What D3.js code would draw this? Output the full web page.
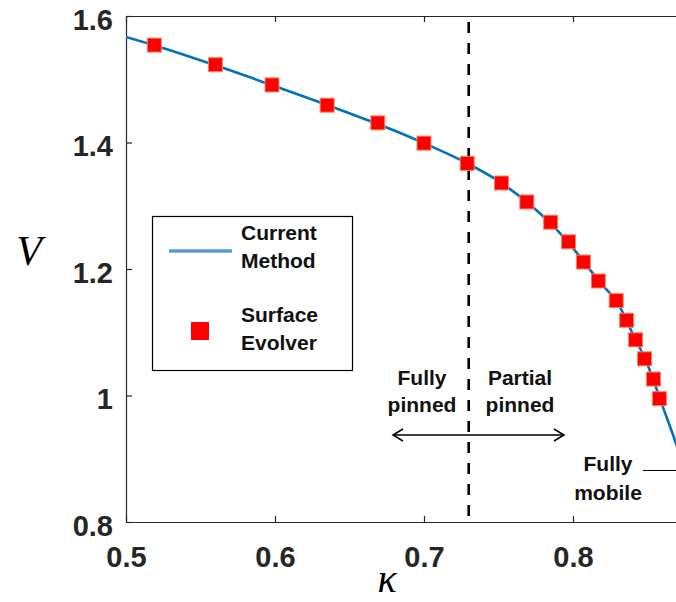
<!DOCTYPE html>
<html>
<head>
<meta charset="utf-8">
<script src="https://cdn.jsdelivr.net/npm/d3@7"></script>
<style>
  body { margin: 0; background: #fff; }
  svg { display: block; overflow: hidden; }
</style>
</head>
<body>
<div id="chart"></div>
<script>
// Current method curve
const kappaCM = [0.50, 0.52, 0.56, 0.60, 0.64, 0.68, 0.70, 0.73, 0.75, 0.77, 0.79, 0.80, 0.81, 0.82, 0.83, 0.84, 0.85, 0.86, 0.87, 0.88];
const vCM = [1.567, 1.553, 1.522, 1.489, 1.455, 1.419, 1.399, 1.366, 1.339, 1.304, 1.260, 1.233, 1.203, 1.174, 1.146, 1.098, 1.049, 0.984, 0.918, 0.84];

// Surface Evolver points
const kappaSE = [0.519, 0.560, 0.598, 0.635, 0.669, 0.700, 0.729, 0.752, 0.769, 0.785, 0.797, 0.807, 0.817, 0.829, 0.836, 0.842, 0.848, 0.854, 0.858];
const vSE = [1.554, 1.523, 1.491, 1.459, 1.431, 1.399, 1.367, 1.336, 1.306, 1.274, 1.243, 1.211, 1.181, 1.150, 1.119, 1.088, 1.058, 1.026, 0.995];

const xTicks = [0.5, 0.6, 0.7, 0.8];
const yTicks = [0.8, 1.0, 1.2, 1.4, 1.6];
const kappaCrit = 0.73;

const width = 676;
const height = 602;
const margin = { top: 16, left: 126, bottom: 80 };
const plotRight = 722; // right edge of the axes box (beyond the visible area)

const x = d3.scaleLinear().domain([0.5, 0.9]).range([margin.left, plotRight]);
const y = d3.scaleLinear().domain([0.8, 1.6]).range([height - margin.bottom, margin.top]);

const svg = d3.select('#chart')
  .append('svg')
  .attr('width', width)
  .attr('height', height);

const axisColor = '#262626';
const tickFont = '"Liberation Sans", Arial, sans-serif';
const noteFont = '"Liberation Sans", Arial, sans-serif';

svg.append('clipPath').attr('id', 'plotClip')
  .append('rect')
  .attr('x', x(0.5)).attr('y', y(1.6))
  .attr('width', x(0.9) - x(0.5)).attr('height', y(0.8) - y(1.6));

// Axes (ticks point inward)
const gx = svg.append('g')
  .attr('transform', `translate(0,${y(0.8)})`)
  .call(d3.axisBottom(x).tickValues(xTicks).tickSizeInner(-6).tickSizeOuter(0).tickPadding(24)
    .tickFormat(d3.format('.1f')));

const gxTop = svg.append('g')
  .attr('transform', `translate(0,${y(1.6)})`)
  .call(d3.axisTop(x).tickValues(xTicks).tickSizeInner(-6).tickSizeOuter(0).tickFormat(''));

const gy = svg.append('g')
  .attr('transform', `translate(${x(0.5)},0)`)
  .call(d3.axisLeft(y).tickValues(yTicks).tickSizeInner(-6).tickSizeOuter(0).tickPadding(13)
    .tickFormat((d) => (d === 1 ? '1' : d3.format('.1f')(d))));

[gx, gxTop, gy].forEach((g) => {
  g.select('.domain').attr('stroke', axisColor).attr('stroke-width', 1.2);
  g.selectAll('.tick line').attr('stroke', axisColor).attr('stroke-width', 1.2);
  g.selectAll('.tick text')
    .attr('fill', axisColor)
    .style('font-family', tickFont)
    .style('font-weight', 'bold')
    .style('font-size', '29px');
});
gy.selectAll('.tick text').attr('dy', '0.46em');

// Axis labels
svg.append('text')
  .attr('x', 387).attr('y', 592)
  .attr('text-anchor', 'middle')
  .style('font-family', '"Liberation Serif", "Times New Roman", serif')
  .style('font-style', 'italic')
  .style('font-size', '40px')
  .text('κ');

svg.append('text')
  .attr('x', 29).attr('y', 265)
  .attr('text-anchor', 'middle')
  .style('font-family', '"Liberation Serif", "Times New Roman", serif')
  .style('font-style', 'italic')
  .style('font-size', '42px')
  .text('V');

// Critical kappa dashed line
svg.append('line')
  .attr('x1', x(kappaCrit)).attr('x2', x(kappaCrit))
  .attr('y1', y(1.6) + 6).attr('y2', y(0.8))
  .attr('stroke', '#000')
  .attr('stroke-width', 2.6)
  .attr('stroke-dasharray', '11,10');

// Current method curve
const curveData = kappaCM.map((k, i) => ({ k, v: vCM[i] }));
const line = d3.line().x((d) => x(d.k)).y((d) => y(d.v)).curve(d3.curveMonotoneX);

svg.append('path')
  .datum(curveData)
  .attr('clip-path', 'url(#plotClip)')
  .attr('fill', 'none')
  .attr('stroke', '#0072bd')
  .attr('stroke-width', 2.6)
  .attr('d', line);

// Surface Evolver markers
const seData = kappaSE.map((k, i) => ({ k, v: vSE[i] }));
const ms = 14;
svg.append('g')
  .selectAll('rect')
  .data(seData)
  .join('rect')
  .attr('x', (d) => x(d.k) - ms / 2)
  .attr('y', (d) => y(d.v) - ms / 2)
  .attr('width', ms)
  .attr('height', ms)
  .attr('fill', '#ff0000')
  .attr('stroke', '#f4845c')
  .attr('stroke-width', 1);

// Legend
const legend = svg.append('g');
legend.append('rect')
  .attr('x', 152.5).attr('y', 216.5)
  .attr('width', 200).attr('height', 154)
  .attr('fill', '#fff')
  .attr('stroke', '#000')
  .attr('stroke-width', 1.2);
legend.append('line')
  .attr('x1', 169).attr('x2', 232)
  .attr('y1', 251).attr('y2', 251)
  .attr('stroke', '#5b9bd5')
  .attr('stroke-width', 3.5);
legend.append('rect')
  .attr('x', 191).attr('y', 322)
  .attr('width', 18).attr('height', 18)
  .attr('fill', '#ff0000');

const legendText = [
  ['Current', 241, 240], ['Method', 241, 268],
  ['Surface', 241, 322], ['Evolver', 241, 350]
];
legend.selectAll('text')
  .data(legendText)
  .join('text')
  .attr('x', (d) => d[1])
  .attr('y', (d) => d[2])
  .style('font-family', noteFont)
  .style('font-weight', 'bold')
  .style('font-size', '21px')
  .attr('fill', '#111')
  .text((d) => d[0]);

// Regime annotations
const notes = [
  ['Fully', 422, 385], ['pinned', 422, 412],
  ['Partial', 520, 385], ['pinned', 520, 412],
  ['Fully', 608, 471], ['mobile', 608, 500]
];
svg.append('g')
  .selectAll('text')
  .data(notes)
  .join('text')
  .attr('x', (d) => d[1])
  .attr('y', (d) => d[2])
  .attr('text-anchor', 'middle')
  .style('font-family', noteFont)
  .style('font-weight', 'bold')
  .style('font-size', '21px')
  .attr('fill', '#111')
  .text((d) => d[0]);

// Double-headed arrow with open heads
const arrowY = 435;
const ax0 = 393, ax1 = 564;
const arrow = svg.append('g').attr('stroke', '#000').attr('stroke-width', 1.5).attr('fill', 'none');
arrow.append('line').attr('x1', ax0).attr('x2', ax1).attr('y1', arrowY).attr('y2', arrowY);
arrow.append('path').attr('d', `M${ax0 + 10},${arrowY - 6} L${ax0},${arrowY} L${ax0 + 10},${arrowY + 6}`);
arrow.append('path').attr('d', `M${ax1 - 10},${arrowY - 6} L${ax1},${arrowY} L${ax1 - 10},${arrowY + 6}`);

// Leader line for the fully mobile regime
svg.append('line')
  .attr('x1', 643).attr('x2', 676)
  .attr('y1', 470.5).attr('y2', 470.5)
  .attr('stroke', '#000')
  .attr('stroke-width', 1.2);
</script>
</body>
</html>
